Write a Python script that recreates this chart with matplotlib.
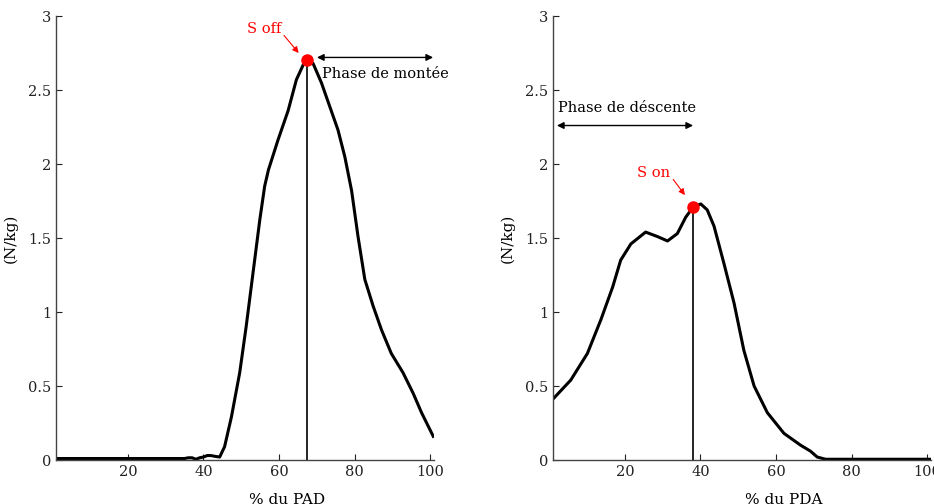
import numpy as np
import matplotlib.pyplot as plt

plt.rcParams['font.family'] = 'DejaVu Serif'

# % du PAD (phase de montee)
pad_x = [1, 10, 20, 30, 35, 36, 37, 38, 39, 40, 41, 42, 43, 44.3, 45.6, 47.4, 49.6,
         51.3, 53.1, 54.9, 56.2, 57.2, 59.7, 62.4, 64.6, 66.4, 67.2, 69.0, 71.2, 73.4,
         75.6, 77.4, 79.2, 80.9, 82.7, 84.9, 87.1, 89.7, 92.8, 95.5, 97.7, 100.8]
pad_y = [0.01, 0.01, 0.01, 0.01, 0.01, 0.015, 0.015, 0.005, 0.015, 0.02, 0.03, 0.03,
         0.025, 0.02, 0.09, 0.29, 0.59, 0.90, 1.26, 1.62, 1.85, 1.96, 2.16, 2.36, 2.57,
         2.67, 2.70, 2.68, 2.55, 2.39, 2.23, 2.05, 1.82, 1.51, 1.22, 1.04, 0.88, 0.72,
         0.59, 0.45, 0.32, 0.16]

# % du PDA (phase de descente)
pda_x = [1.3, 5.7, 10.1, 13.7, 16.8, 18.9, 21.6, 25.5, 28.6, 31.3, 33.9, 36.1, 38.1,
         40.1, 41.8, 43.6, 46.2, 48.9, 51.5, 54.2, 57.7, 62.1, 66.5, 69.1, 70.9, 73.1,
         80, 90, 101]
pda_y = [0.42, 0.54, 0.72, 0.95, 1.17, 1.35, 1.46, 1.54, 1.51, 1.48, 1.53, 1.64, 1.71,
         1.73, 1.69, 1.58, 1.33, 1.06, 0.74, 0.50, 0.32, 0.18, 0.10, 0.06, 0.02, 0.005,
         0.005, 0.005, 0.005]

s_off = (67.3, 2.70)
s_on = (38.1, 1.71)

fig = plt.figure(figsize=(9.34, 5.04), dpi=100)
ax1 = fig.add_axes([56 / 934, 44 / 504, 378 / 934, 444 / 504])
ax2 = fig.add_axes([553 / 934, 44 / 504, 378 / 934, 444 / 504])


def style(ax, xlabel):
    ax.set_xlim(1, 101)
    ax.set_ylim(0, 3)
    ax.set_xticks([20, 40, 60, 80, 100])
    ax.set_yticks([0, 0.5, 1, 1.5, 2, 2.5, 3])
    ax.set_yticklabels(['0', '0.5', '1', '1.5', '2', '2.5', '3'])
    ax.spines['top'].set_visible(False)
    ax.spines['right'].set_visible(False)
    for s in ('left', 'bottom'):
        ax.spines[s].set_color('#444444')
        ax.spines[s].set_linewidth(1.0)
    ax.tick_params(direction='in', length=4, labelsize=10.5, colors='#222222')
    ax.set_xlabel(xlabel, fontsize=11)
    ax.xaxis.set_label_coords(0.61, -0.075)
    ax.set_ylabel('(N/kg)', fontsize=11)
    ax.yaxis.set_label_coords(-0.1, 0.5)


# PAD
ax1.plot(pad_x, pad_y, color='black', lw=2.2, solid_joinstyle='round')
ax1.plot([s_off[0], s_off[0]], [0, s_off[1]], color='black', lw=1.2)
ax1.plot(s_off[0], s_off[1], 'o', color='red', ms=8)
ax1.annotate('', xy=(101.5, 2.72), xytext=(69.3, 2.72),
             arrowprops=dict(arrowstyle='<|-|>', color='black', lw=1, mutation_scale=10),
             annotation_clip=False)
ax1.text(71.5, 2.61, 'Phase de montée', fontsize=10.5, va='center', ha='left')
ax1.annotate('S off', xy=(65.2, 2.75), xytext=(51.5, 2.91), color='red', fontsize=10.5,
             va='center', ha='left',
             arrowprops=dict(arrowstyle='-|>', color='red', lw=0.8, mutation_scale=9,
                             shrinkA=0, shrinkB=0, relpos=(1.0, 0.3)))
style(ax1, '% du PAD')

# PDA
ax2.plot(pda_x, pda_y, color='black', lw=2.2, solid_joinstyle='round')
ax2.plot([s_on[0], s_on[0]], [0, s_on[1]], color='black', lw=1.2)
ax2.plot(s_on[0], s_on[1], 'o', color='red', ms=8)
ax2.annotate('', xy=(38.8, 2.26), xytext=(1.3, 2.26),
             arrowprops=dict(arrowstyle='<|-|>', color='black', lw=1, mutation_scale=10),
             annotation_clip=False)
ax2.text(2.3, 2.38, 'Phase de déscente', fontsize=10.5, va='center', ha='left')
ax2.annotate('S on', xy=(35.9, 1.79), xytext=(23.3, 1.94), color='red', fontsize=10.5,
             va='center', ha='left',
             arrowprops=dict(arrowstyle='-|>', color='red', lw=0.8, mutation_scale=9,
                             shrinkA=0, shrinkB=0, relpos=(1.0, 0.3)))
style(ax2, '% du PDA')

fig.savefig('out.png', dpi=100)
